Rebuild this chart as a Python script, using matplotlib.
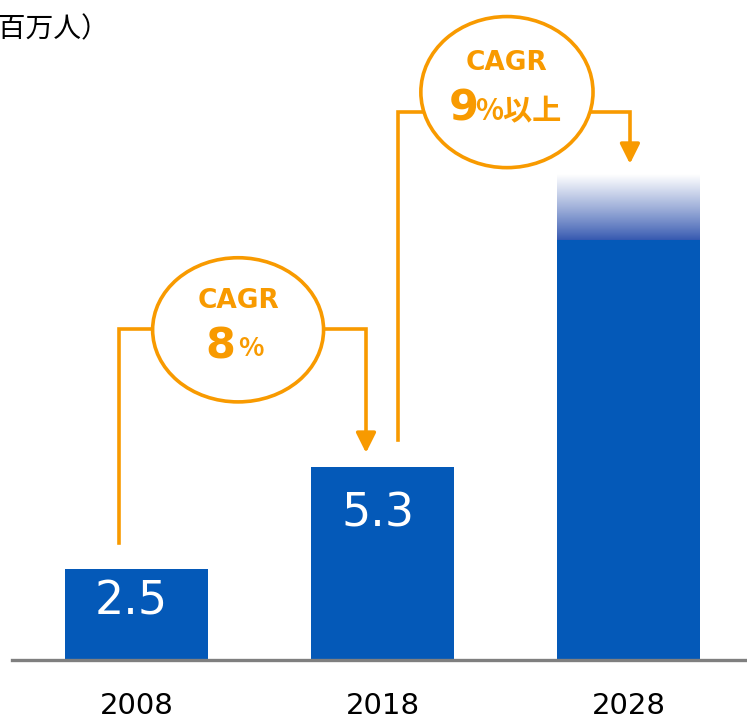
import numpy as np
import matplotlib
matplotlib.use("Agg")
import matplotlib.pyplot as plt
from matplotlib.patches import Ellipse

# data
years = ["2008", "2018", "2028"]
values = [2.5, 5.3, 11.6]          # 2028 solid part, fades out above
fade_top = 13.5                    # 2028 bar fades up to here
value_labels = ["2.5", "5.3", ""]
cagr_texts = [("8", "%"), ("9", "%以上")]

BLUE = "#0459B8"
ORANGE = "#F89A00"
GRAY = "#7F7F7F"

W, H = 747, 721
fig = plt.figure(figsize=(W / 100, H / 100), dpi=100)
base_px = 61
ax = fig.add_axes([0, base_px / H, 1, 1 - base_px / H])

x = np.arange(len(years))
bw = 0.58
ax.bar(x, values, width=bw, color=BLUE, zorder=2)

# fading top of the 2028 bar: dark blue -> white
n = 200
t = np.linspace(0, 1, n)[:, None]
c0 = np.array(matplotlib.colors.to_rgb("#3558B0"))
f = np.clip(t * 1.08, 0, 1) ** 0.9
grad = np.zeros((n, 1, 3))
for k in range(3):
    grad[..., k] = c0[k] + (1 - c0[k]) * f
ax.imshow(grad, extent=[x[2] - bw / 2, x[2] + bw / 2, values[2] - 0.05, fade_top],
          origin="lower", aspect="auto", zorder=2, interpolation="bilinear")

ax.set_xlim(-0.555, 2.482)
ax.set_ylim(0, 18.13)

# value labels in bars
drops = [0.92, 1.3]
for i, lab in enumerate(value_labels):
    if lab:
        ax.text(x[i] - 0.02, values[i] - drops[i], lab, color="white",
                ha="center", va="center", fontsize=33, zorder=3)

# baseline
ax.axhline(0, xmin=12 / W, xmax=1, color=GRAY, lw=2.4, zorder=3, clip_on=False)

ax.set_xticks(x)
ax.set_xticklabels(years, fontsize=21)
ax.tick_params(axis="x", length=0, pad=23)
ax.set_yticks([])
for s in ax.spines.values():
    s.set_visible(False)

# CAGR connectors
lw = 2.6
def connector(x0, y0, ytop, x1, y1, cx, cy, ew, eh, big, small, shift, gap, ssize):
    ax.plot([x0, x0, x1, x1], [y0, ytop, ytop, y1 + 0.4], color=ORANGE,
            lw=lw, zorder=4, solid_joinstyle="miter")
    ax.annotate("", xy=(x1, y1), xytext=(x1, y1 + 0.5),
                arrowprops=dict(arrowstyle="-|>,head_length=1.2,head_width=0.6",
                                color=ORANGE, lw=lw, shrinkA=0, shrinkB=0),
                zorder=4)
    ax.add_patch(Ellipse((cx, cy), ew, eh, facecolor="white",
                         edgecolor=ORANGE, lw=lw, zorder=5))
    ax.text(cx, cy + 0.8, "CAGR", color=ORANGE, fontsize=19, weight="bold",
            ha="center", va="center", zorder=6)
    ax.text(cx + shift, cy - 0.45, big,
            color=ORANGE, fontsize=31, weight="bold", ha="right",
            va="center", zorder=6)
    ax.text(cx + shift + gap, cy - 0.52, small,
            color=ORANGE, fontsize=ssize, weight="bold", ha="left", va="center",
            family=["Noto Sans CJK JP", "DejaVu Sans"], zorder=6)

connector(x[0] - 0.071, values[0] + 0.71, 9.09, x[1] - 0.067, values[1] + 0.39,
          0.413, 9.07, 0.695, 3.96, *cagr_texts[0], -0.01, 0.01, 19)
connector(x[1] + 0.063, values[1] + 0.74, 15.05, x[2] + 0.006, fade_top + 0.13,
          1.506, 15.6, 0.70, 4.15, *cagr_texts[1], -0.115, -0.015, 21)

fig.text(-29 / W, 1 - 29 / H, "（百万人）", ha="left", va="center",
         fontsize=20, family=["Noto Sans CJK JP", "DejaVu Sans"])

fig.savefig("out.png", dpi=100)
